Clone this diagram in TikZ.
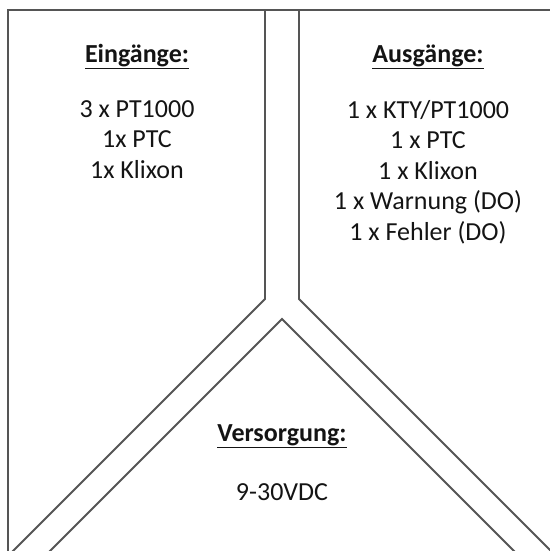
\documentclass[tikz,border=0pt]{standalone}
\usepackage{fontspec}
\setmainfont{Carlito}
\definecolor{frame}{RGB}{85,85,85}
\definecolor{ink}{RGB}{20,20,20}
\tikzset{
  wall/.style={draw=frame, line width=1.4pt, line join=miter},
  head/.style={anchor=base, text=ink, inner sep=0pt,
    font=\fontsize{19.5}{23}\selectfont\bfseries},
  items/.style={anchor=base, text=ink, inner sep=0pt, align=center,
    font=\fontsize{19.5}{22.9}\selectfont},
}
\newcommand{\ul}[1]{\underline{#1}}
\begin{document}
\begin{tikzpicture}[x=0.75pt, y=-0.75pt]
  \useasboundingbox (0,0) rectangle (550,551);
  \clip (0,0) rectangle (550,551);
  % corner points of the three panels
  \coordinate (tl) at (8,10);
  \coordinate (tr) at (560,10);
  \coordinate (bl) at (8,560);
  \coordinate (lt) at (265,10);
  \coordinate (lj) at (265,299);
  \coordinate (lb) at (4,560);
  \coordinate (rt) at (299,10);
  \coordinate (rj) at (299,299);
  \coordinate (rb) at (560,560);
  \coordinate (apex) at (282,319);
  \coordinate (ab1) at (41,560);
  \coordinate (ab2) at (523,560);
  % outer frame
  \draw[wall] (bl) -- (tl) -- (tr);
  % channel between the panels
  \draw[wall] (lt) -- (lj) -- (lb);
  \draw[wall] (rt) -- (rj) -- (rb);
  \draw[wall] (ab1) -- (apex) -- (ab2);
  % inputs
  \node[head] (inhead) at (137,62) {\ul{Eingänge:}};
  \node[items, anchor=north] (inlist) at (137,100) {3 x PT1000\\1x PTC\\1x Klixon};
  % outputs
  \node[head] (outhead) at (428,62) {\ul{Ausgänge:}};
  \node[items, anchor=north] (outlist) at (428,100) {1 x KTY/PT1000\\1 x PTC\\1 x Klixon\\1 x Warnung (DO)\\1 x Fehler (DO)};
  % supply
  \node[head] (suphead) at (282,441) {\ul{Versorgung:}};
  \node[items] (supval) at (282,500) {9-30VDC};
\end{tikzpicture}
\end{document}
